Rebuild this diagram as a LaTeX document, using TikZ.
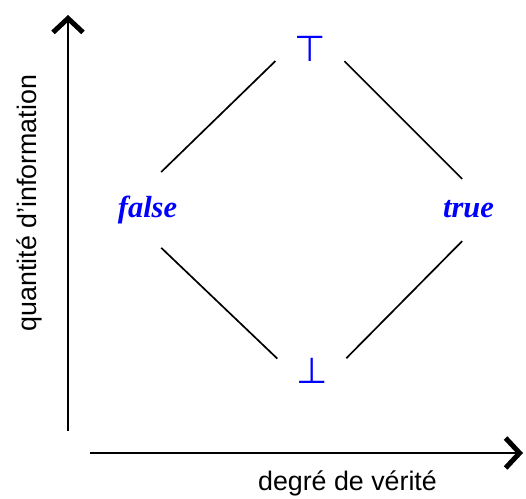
\documentclass[tikz,border=0pt]{standalone}
\usepackage{fontspec}
\setmainfont{Liberation Serif}
\setsansfont{Liberation Sans}
\newfontfamily\tackfont{DejaVu Sans}
\usetikzlibrary{arrows.meta}
\definecolor{valueBlue}{RGB}{0,0,255}

\begin{document}
\begin{tikzpicture}[
    x=1pt, y=-1pt,
    valeur/.style={
        text=valueBlue,
        font=\fontsize{30.5}{34}\selectfont\rmfamily\bfseries\itshape,
        anchor=base,
        text height=21pt,
        text depth=7pt,
        inner xsep=3pt,
        inner ysep=10.5pt
    },
    symbole/.style={
        text=valueBlue,
        font=\fontsize{36}{40}\selectfont\tackfont,
        inner sep=0pt,
        minimum width=43pt
    },
    axe/.style={
        line width=1.8pt,
        -{Straight Barb[length=14pt, width=30pt, line width=5pt]}
    },
    titre/.style={
        font=\fontsize{26.8}{32}\selectfont\sffamily
    },
    arete/.style={
        line width=1.7pt,
        shorten <=18pt,
        shorten >=19pt
    }
]
    \useasboundingbox (0,0) rectangle (526,498);

    % axes
    \coordinate (ybas) at (68,431);
    \coordinate (yhaut) at (68,15);
    \coordinate (xgauche) at (90,453);
    \coordinate (xdroite) at (523,453);
    \draw[axe] (ybas) -- (yhaut);
    \draw[axe] (xgauche) -- (xdroite);
    \node[titre, rotate=90] (info) at (29,203) {quantité d'information};
    \node[titre, anchor=base] (verite) at (347.5,490) {degré de vérité};

    % treillis
    \node[symbole] (haut) at (310,48.5) {⊤};
    \node[symbole] (bas) at (312,371) {⊥};
    \node[valeur] (faux) at (147.5,217) {false};
    \node[valeur] (vrai) at (468.5,217) {true};

    \draw[arete] (haut.west) -- (faux.north);
    \draw[arete, shorten >=9pt] (haut.east) -- (vrai.north);
    \draw[arete] (bas.west) -- (faux.south);
    \draw[arete, shorten >=9pt] (bas.east) -- (vrai.south);
\end{tikzpicture}
\end{document}
